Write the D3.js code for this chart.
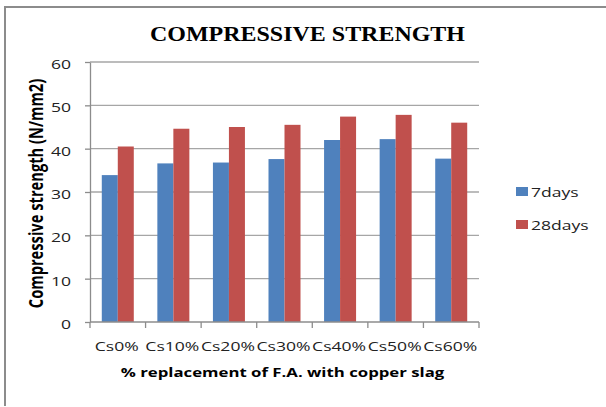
<!DOCTYPE html>
<html>
<head>
<meta charset="utf-8">
<script src="https://cdn.jsdelivr.net/npm/d3@7"></script>
<style>
  html, body { margin: 0; padding: 0; background: #fff; }
  svg { display: block; }
</style>
</head>
<body>
<svg id="chart" width="606" height="407"></svg>
<script>
// Mix designs (copper slag replacing fine aggregate)
const categories = ["Cs0%", "Cs10%", "Cs20%", "Cs30%", "Cs40%", "Cs50%", "Cs60%"];
// Compressive strength, N/mm2
const days7  = [33.9, 36.6, 36.8, 37.6, 42.0, 42.2, 37.7];
const days28 = [40.5, 44.6, 45.0, 45.5, 47.4, 47.8, 46.0];
const seriesNames = ["7days", "28days"];
const yTicks = [0, 10, 20, 30, 40, 50, 60];

const colors = ["#4f81bd", "#c0504d"];
const sansFont = "'Open Sans', 'Liberation Sans', sans-serif";
const stretch = 1.35;   // horizontal widening of the sans labels

const svg = d3.select("#chart");

// place a text at (x, y) widened horizontally
function label(parent, x, y, txt, opts = {}) {
  const g = parent.append("g")
    .attr("transform", `translate(${x},${y}) scale(${opts.sx || stretch},1)${opts.rotate ? " rotate(" + opts.rotate + ")" : ""}`);
  return g.append("text")
    .attr("text-anchor", opts.anchor || "middle")
    .attr("font-family", opts.family || sansFont)
    .attr("font-size", opts.size || 13)
    .attr("font-weight", opts.weight || "normal")
    .attr("fill", opts.fill || "#222")
    .text(txt);
}

// frame (top and left edges)
svg.append("path")
  .attr("d", "M5,406 L5,7 L606,7")
  .attr("fill", "none")
  .attr("stroke", "#8c8c8c")
  .attr("stroke-width", 2);

const plot = { left: 90, right: 479, top: 62, bottom: 322 };

const x = d3.scaleBand().domain(categories).range([plot.left, plot.right]).paddingInner(0).paddingOuter(0);
const y = d3.scaleLinear().domain([0, 60]).range([plot.bottom, plot.top]);

// horizontal gridlines
svg.append("g").selectAll("line").data(yTicks.filter(d => d > 0)).join("line")
  .attr("x1", plot.left).attr("x2", plot.right)
  .attr("y1", d => y(d)).attr("y2", d => y(d))
  .attr("stroke", "#a6a6a6").attr("stroke-width", 1.3);

// bars
const barW = 16;
const series = [days7, days28];
series.forEach((vals, si) => {
  svg.append("g").selectAll("rect").data(categories).join("rect")
    .attr("x", c => x(c) + x.bandwidth() / 2 - barW + si * barW)
    .attr("y", (c, i) => y(vals[i]))
    .attr("width", barW)
    .attr("height", (c, i) => y(0) - y(vals[i]))
    .attr("fill", colors[si]);
});

// y axis line and ticks
const yAxis = svg.append("g")
  .attr("transform", `translate(${plot.left},0)`)
  .call(d3.axisLeft(y).tickValues(yTicks).tickSize(5).tickFormat("").tickSizeOuter(0));
yAxis.select(".domain").attr("stroke", "#8c8c8c").attr("stroke-width", 1.3);
yAxis.selectAll(".tick line").attr("stroke", "#8c8c8c").attr("stroke-width", 1.3);
yTicks.forEach(t => label(svg, 71, y(t) + 7, String(t), { anchor: "end" }));

// x axis: baseline with ticks at category boundaries
const xAxis = svg.append("g").attr("transform", `translate(0,${plot.bottom})`);
xAxis.append("line")
  .attr("x1", plot.left).attr("x2", plot.right)
  .attr("stroke", "#8c8c8c").attr("stroke-width", 1.3);
const bounds = categories.map(c => x(c)).concat([plot.right]);
xAxis.selectAll("line.tk").data(bounds).join("line")
  .attr("class", "tk")
  .attr("x1", d => d).attr("x2", d => d)
  .attr("y1", 0).attr("y2", 6)
  .attr("stroke", "#8c8c8c").attr("stroke-width", 1.3);
categories.forEach(c => label(svg, x(c) + x.bandwidth() / 2 - 1, 351, c));

// title
label(svg, 307.5, 41, "COMPRESSIVE STRENGTH", {
  sx: 1.09, size: 22, weight: "bold", fill: "#000",
  family: "'Liberation Serif', 'Times New Roman', serif"
});

// axis titles
label(svg, 43, 193.5, "Compressive strength (N/mm2)", {
  size: 14.7, weight: "bold", fill: "#000", rotate: -90, sx: 1.3
});
label(svg, 282.5, 377, "% replacement of F.A. with copper slag", {
  size: 13, weight: "bold", fill: "#000", sx: 1.29
});

// legend
seriesNames.forEach((name, i) => {
  const ly = 187 + i * 33;
  svg.append("rect")
    .attr("x", 516).attr("y", ly)
    .attr("width", 12).attr("height", 9)
    .attr("fill", colors[i]);
  label(svg, 531, ly + 10, name, { anchor: "start" });
});
</script>
</body>
</html>
